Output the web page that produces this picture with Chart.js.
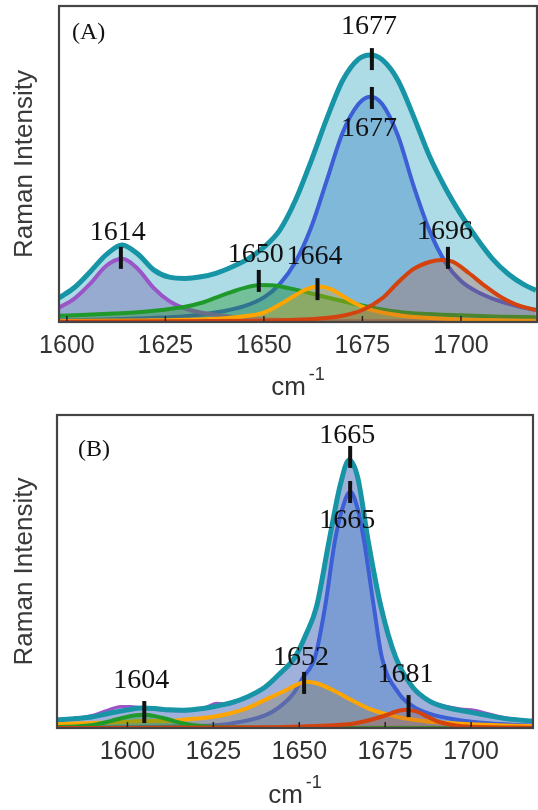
<!DOCTYPE html>
<html>
<head>
<meta charset="utf-8">
<script src="https://cdn.jsdelivr.net/npm/chart.js@4.4.1/dist/chart.umd.min.js"></script>
<style>
  html, body { margin: 0; padding: 0; background: #fff; }
  .panel { position: absolute; left: 0; width: 538px; }
</style>
</head>
<body>
<div class="panel" style="top:0;height:400px"><canvas id="chartA" width="538" height="400"></canvas></div>
<div class="panel" style="top:400px;height:410px"><canvas id="chartB" width="538" height="410"></canvas></div>
<script>
// x tick labels shared by both panels
var xTicks = [1600, 1625, 1650, 1675, 1700];

// ---- panel (A): [wavenumber, intensity] ----
var A_total = [[1598,0.076],[1602,0.11],[1606,0.16],[1610,0.213],[1614,0.244],[1618,0.215],[1622,0.165],[1626,0.142],[1630,0.138],[1634,0.143],[1638,0.155],[1642,0.175],[1646,0.2],[1650,0.237],[1654,0.29],[1658,0.385],[1662,0.51],[1666,0.645],[1670,0.765],[1674,0.832],[1677,0.845],[1680,0.83],[1684,0.765],[1688,0.65],[1692,0.525],[1696,0.425],[1700,0.34],[1704,0.265],[1708,0.2],[1712,0.152],[1716,0.118],[1719,0.1]];
var A_1677 = [[1598,0.005],[1610,0.008],[1620,0.012],[1630,0.018],[1640,0.035],[1645,0.05],[1650,0.078],[1654,0.12],[1658,0.19],[1662,0.3],[1666,0.45],[1670,0.6],[1674,0.69],[1677,0.713],[1680,0.69],[1684,0.59],[1688,0.43],[1692,0.29],[1696,0.19],[1700,0.13],[1705,0.09],[1710,0.065],[1715,0.048],[1719,0.038]];
var A_1614 = [[1598,0.045],[1602,0.075],[1606,0.122],[1610,0.178],[1614,0.2],[1618,0.168],[1622,0.108],[1626,0.066],[1630,0.042],[1634,0.03],[1638,0.022],[1642,0.016],[1646,0.012],[1650,0.009],[1660,0.005],[1680,0.003],[1719,0.002]];
var A_1650 = [[1598,0.02],[1605,0.023],[1612,0.027],[1618,0.031],[1624,0.038],[1630,0.048],[1634,0.06],[1638,0.078],[1642,0.096],[1646,0.111],[1649,0.117],[1652,0.116],[1656,0.108],[1660,0.097],[1664,0.084],[1668,0.072],[1672,0.06],[1676,0.049],[1680,0.04],[1685,0.031],[1690,0.026],[1700,0.021],[1710,0.017],[1719,0.015]];
var A_1664 = [[1598,0.003],[1620,0.005],[1630,0.007],[1640,0.012],[1645,0.018],[1650,0.03],[1654,0.055],[1658,0.085],[1661,0.105],[1664,0.112],[1667,0.104],[1670,0.082],[1673,0.06],[1676,0.043],[1680,0.03],[1685,0.02],[1690,0.014],[1700,0.008],[1719,0.004]];
var A_1696 = [[1598,0.001],[1650,0.004],[1660,0.008],[1665,0.012],[1670,0.02],[1675,0.038],[1680,0.075],[1684,0.125],[1688,0.168],[1692,0.19],[1695,0.196],[1698,0.19],[1702,0.155],[1706,0.115],[1710,0.08],[1714,0.055],[1719,0.038]];
// peak marks: [wavenumber, intensity, label, label side]
var A_peaks = [[1613.7,0.203,'1614','up'],[1648.7,0.13,'1650','up'],[1663.6,0.104,'1664','up'],[1677.4,0.832,'1677','up'],[1677.4,0.709,'1677','down'],[1696.7,0.203,'1696','up']];

// ---- panel (B) ----
var B_raw = [[1579.5,0.026],[1585,0.03],[1590,0.04],[1594,0.055],[1598,0.068],[1601,0.068],[1604,0.064],[1608,0.06],[1612,0.056],[1616,0.055],[1620,0.058],[1623,0.066],[1626,0.078],[1629,0.076],[1632,0.085],[1636,0.105],[1640,0.13],[1644,0.17],[1648.8,0.227],[1652,0.3],[1655,0.387],[1658.7,0.6],[1662,0.78],[1664.5,0.856],[1667,0.8],[1670,0.6],[1673.7,0.39],[1678,0.227],[1683,0.13],[1688,0.085],[1693,0.068],[1697,0.06],[1701,0.056],[1705,0.045],[1710,0.032],[1718,0.022]];
var B_total = [[1579.5,0.026],[1585,0.03],[1590,0.036],[1595,0.048],[1600,0.058],[1604,0.064],[1608,0.062],[1612,0.058],[1616,0.057],[1620,0.06],[1625,0.068],[1630,0.08],[1635,0.1],[1640,0.13],[1644,0.17],[1648.8,0.227],[1652,0.3],[1655,0.387],[1658.7,0.6],[1662,0.78],[1664.5,0.856],[1667,0.8],[1670,0.6],[1673.7,0.39],[1678,0.227],[1683,0.13],[1688,0.085],[1693,0.065],[1700,0.05],[1705,0.04],[1710,0.03],[1718,0.022]];
var B_1665 = [[1579.5,0.001],[1620,0.006],[1630,0.014],[1640,0.04],[1644,0.065],[1648.3,0.11],[1651,0.16],[1654.6,0.227],[1657.5,0.387],[1660.4,0.6],[1662.5,0.7],[1664.8,0.755],[1667,0.7],[1668.8,0.6],[1671.7,0.387],[1674,0.227],[1679,0.11],[1683,0.07],[1688,0.045],[1695,0.028],[1705,0.015],[1718,0.008]];
var B_1652 = [[1579.5,0.012],[1590,0.016],[1600,0.02],[1604,0.022],[1610,0.022],[1615,0.025],[1620,0.03],[1625,0.036],[1630,0.047],[1635,0.064],[1640,0.09],[1645,0.115],[1650,0.142],[1652,0.148],[1655,0.143],[1660,0.12],[1665,0.09],[1670,0.063],[1675,0.045],[1680,0.032],[1685,0.024],[1690,0.018],[1700,0.012],[1710,0.008],[1718,0.006]];
var B_1604 = [[1579.5,0.003],[1586,0.006],[1590,0.01],[1595,0.022],[1600,0.036],[1604.5,0.042],[1608,0.038],[1612,0.027],[1616,0.015],[1620,0.008],[1625,0.004],[1640,0.001],[1718,0]];
var B_1681 = [[1579.5,0],[1640,0.002],[1650,0.005],[1660,0.009],[1665,0.013],[1670,0.024],[1675,0.04],[1678,0.052],[1681,0.058],[1684,0.053],[1687,0.038],[1690,0.022],[1695,0.009],[1700,0.004],[1718,0.001]];
var B_peaks = [[1604.9,0.051,'1604','up'],[1651.4,0.144,'1652','up'],[1664.8,0.866,'1665','up'],[1664.8,0.754,'1665','down'],[1681.8,0.07,'1681','up']];

var SANS = '"Liberation Sans", Arial, sans-serif';
var SERIF = '"Liberation Serif", "Times New Roman", serif';

function pts(arr) {
  return arr.map(function (p) { return { x: p[0], y: p[1] }; });
}

function band(arr, line, fill, width, order) {
  return {
    data: pts(arr),
    borderColor: line,
    backgroundColor: fill,
    borderWidth: width,
    fill: 'origin',
    pointRadius: 0,
    cubicInterpolationMode: 'monotone',
    order: order
  };
}

// frame, inward ticks, panel letter, axis title and peak marks
var decoPlugin = {
  id: 'deco',
  afterDatasetsDraw: function (chart, args, opts) {
    var ctx = chart.ctx, a = chart.chartArea;
    var xs = chart.scales.x, ys = chart.scales.y;
    ctx.save();

    // peak bars and labels (gap = label offset in px from the bar centre)
    opts.peaks.forEach(function (p, i) {
      var px = xs.getPixelForValue(p[0]);
      var py = ys.getPixelForValue(p[1]);
      var gap = opts.gaps[i];
      ctx.fillStyle = '#111';
      ctx.fillRect(px - 2, py - 11, 4, 22);
      ctx.font = '28px ' + SERIF;
      ctx.textAlign = 'center';
      if (p[3] === 'up') {
        ctx.textBaseline = 'alphabetic';
        ctx.fillText(p[2], px - 3, py - gap);
      } else {
        ctx.textBaseline = 'top';
        ctx.fillText(p[2], px - 3, py + gap);
      }
    });

    // inward tick marks
    ctx.strokeStyle = '#222';
    ctx.lineWidth = 1.5;
    xTicks.forEach(function (v) {
      var px = xs.getPixelForValue(v);
      ctx.beginPath();
      ctx.moveTo(px, a.bottom);
      ctx.lineTo(px, a.bottom - 6);
      ctx.stroke();
    });

    // frame
    ctx.strokeStyle = '#444';
    ctx.lineWidth = 2.2;
    ctx.strokeRect(a.left, a.top, a.right - a.left, a.bottom - a.top);

    // panel letter
    ctx.fillStyle = '#111';
    ctx.font = '24px ' + SERIF;
    ctx.textAlign = 'left';
    ctx.textBaseline = 'middle';
    ctx.fillText(opts.letter, a.left + opts.letterDx, a.top + opts.letterDy);

    // x axis title cm^-1
    var cx = (a.left + a.right) / 2;
    ctx.fillStyle = '#333';
    ctx.font = '26px ' + SANS;
    ctx.textBaseline = 'alphabetic';
    var w1 = ctx.measureText('cm').width;
    ctx.font = '18px ' + SANS;
    var w2 = ctx.measureText('-1').width;
    var x0 = cx - (w1 + w2 + 3) / 2;
    ctx.font = '26px ' + SANS;
    ctx.fillText('cm', x0, opts.titleY);
    ctx.font = '18px ' + SANS;
    ctx.fillText('-1', x0 + w1 + 3, opts.titleY - 15);
    ctx.restore();
  }
};

function makeChart(id, sets, xmin, xmax, yWidth, pad, deco) {
  return new Chart(document.getElementById(id), {
    type: 'line',
    data: { datasets: sets },
    options: {
      responsive: false,
      animation: false,
      layout: { padding: pad },
      plugins: { legend: { display: false }, tooltip: { enabled: false }, deco: deco },
      scales: {
        x: {
          type: 'linear',
          min: xmin,
          max: xmax,
          grid: { display: false, drawTicks: false },
          border: { display: false },
          afterBuildTicks: function (s) { s.ticks = xTicks.map(function (v) { return { value: v }; }); },
          ticks: {
            color: '#333', padding: 9, maxRotation: 0,
            font: { family: SANS, size: 25 },
            callback: function (v) { return String(v); }
          },
          afterFit: function (s) { s.height = pad.xh; }
        },
        y: {
          min: 0,
          max: 1,
          grid: { display: false, drawTicks: false },
          border: { display: false },
          ticks: { display: false },
          title: { display: true, text: 'Raman Intensity', color: '#3a3a3a', padding: { top: 9, bottom: 0 }, font: { family: SANS, size: 26, weight: 'normal' } },
          afterFit: function (s) { s.width = yWidth; }
        }
      }
    },
    plugins: [decoPlugin]
  });
}

var teal = '#1795a6';

makeChart('chartA', [
  band(A_total, teal, 'rgba(140,205,220,0.7)', 5, 6),
  band(A_1677, '#3d5fd6', 'rgba(60,130,200,0.4)', 4, 5),
  band(A_1614, '#9a55c8', 'rgba(110,80,170,0.35)', 4, 4),
  band(A_1650, '#1f9a2a', 'rgba(30,150,40,0.4)', 4, 3),
  band(A_1664, '#ffa500', 'rgba(255,165,0,0.3)', 4, 2),
  band(A_1696, '#d4420e', 'rgba(180,90,60,0.3)', 4, 1)
], 1598, 1719.3, 59, { top: 6, right: 1, left: 0, bottom: 0, xh: 78 },
  { peaks: A_peaks, gaps: [18, 19, 25, 25, 17, 19], letter: '(A)', letterDx: 13, letterDy: 27, titleY: 395 });

makeChart('chartB', [
  band(B_raw, '#9a55c8', 'rgba(110,90,190,0.25)', 3.5, 7),
  band(B_total, teal, 'rgba(119,151,204,0.6)', 5, 6),
  band(B_1665, '#3d5fd6', 'rgba(60,120,200,0.35)', 4, 5),
  band(B_1652, '#ffa500', 'rgba(150,130,90,0.35)', 4, 4),
  band(B_1604, '#1f9a2a', 'rgba(30,150,40,0.4)', 4, 3),
  band(B_1681, '#d4420e', 'rgba(180,90,60,0.3)', 4, 2)
], 1579.5, 1718, 57, { top: 15, right: 5, left: 0, bottom: 0, xh: 82 },
  { peaks: B_peaks, gaps: [24, 18, 14, 15, 24], letter: '(B)', letterDx: 21, letterDy: 35, titleY: 403 });
</script>
</body>
</html>
